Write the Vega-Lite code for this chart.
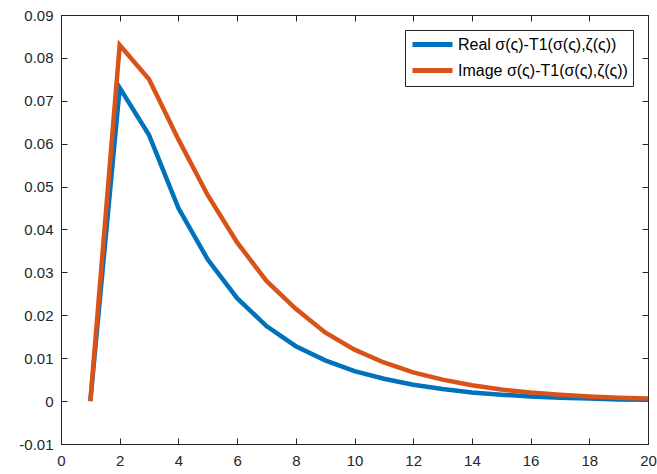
{
  "$schema": "https://vega.github.io/schema/vega-lite/v6.json",
  "autosize": "none",
  "width": 587,
  "height": 429,
  "padding": {"left": 61, "top": 15, "right": 9, "bottom": 30},
  "background": "white",
  "config": {
    "view": {"stroke": "#262626", "strokeWidth": 1},
    "font": "Liberation Sans",
    "axis": {
      "grid": false,
      "domainColor": "#262626",
      "tickColor": "#262626",
      "tickSize": -6,
      "labelColor": "#262626",
      "labelFont": "Liberation Sans",
      "labelFontSize": 15,
      "titleFontSize": 0
    }
  },
  "data": {
    "values": [
      {"x": 1, "s": "Real", "v": 0},
      {"x": 2, "s": "Real", "v": 0.073},
      {"x": 3, "s": "Real", "v": 0.062},
      {"x": 4, "s": "Real", "v": 0.045},
      {"x": 5, "s": "Real", "v": 0.033},
      {"x": 6, "s": "Real", "v": 0.024},
      {"x": 7, "s": "Real", "v": 0.0175},
      {"x": 8, "s": "Real", "v": 0.0128},
      {"x": 9, "s": "Real", "v": 0.0095},
      {"x": 10, "s": "Real", "v": 0.007},
      {"x": 11, "s": "Real", "v": 0.0052},
      {"x": 12, "s": "Real", "v": 0.0038},
      {"x": 13, "s": "Real", "v": 0.0028},
      {"x": 14, "s": "Real", "v": 0.002},
      {"x": 15, "s": "Real", "v": 0.0015},
      {"x": 16, "s": "Real", "v": 0.0011},
      {"x": 17, "s": "Real", "v": 0.0008},
      {"x": 18, "s": "Real", "v": 0.0006},
      {"x": 19, "s": "Real", "v": 0.0004},
      {"x": 20, "s": "Real", "v": 0.0003},
      {"x": 1, "s": "Image", "v": 0},
      {"x": 2, "s": "Image", "v": 0.083},
      {"x": 3, "s": "Image", "v": 0.075},
      {"x": 4, "s": "Image", "v": 0.061},
      {"x": 5, "s": "Image", "v": 0.048},
      {"x": 6, "s": "Image", "v": 0.037},
      {"x": 7, "s": "Image", "v": 0.028},
      {"x": 8, "s": "Image", "v": 0.0215},
      {"x": 9, "s": "Image", "v": 0.016},
      {"x": 10, "s": "Image", "v": 0.012},
      {"x": 11, "s": "Image", "v": 0.009},
      {"x": 12, "s": "Image", "v": 0.0067},
      {"x": 13, "s": "Image", "v": 0.005},
      {"x": 14, "s": "Image", "v": 0.0037},
      {"x": 15, "s": "Image", "v": 0.0027},
      {"x": 16, "s": "Image", "v": 0.002},
      {"x": 17, "s": "Image", "v": 0.0015},
      {"x": 18, "s": "Image", "v": 0.0011},
      {"x": 19, "s": "Image", "v": 0.0008},
      {"x": 20, "s": "Image", "v": 0.0006}
    ]
  },
  "resolve": {"axis": {"x": "independent", "y": "independent"}},
  "layer": [
    {
      "mark": {"type": "line", "strokeWidth": 4.5, "strokeJoin": "miter"},
      "encoding": {
        "x": {
          "field": "x", "type": "quantitative",
          "scale": {"domain": [0, 20], "nice": false},
          "axis": {"values": [0, 2, 4, 6, 8, 10, 12, 14, 16, 18, 20], "labelPadding": 15, "title": null, "labelFlush": false}
        },
        "y": {
          "field": "v", "type": "quantitative",
          "scale": {"domain": [-0.01, 0.09], "nice": false, "zero": false},
          "axis": {
            "values": [-0.01, 0, 0.01, 0.02, 0.03, 0.04, 0.05, 0.06, 0.07, 0.08, 0.09],
            "labelExpr": "replace(format(datum.value, '.2~f'), '\u2212', '-')",
            "labelPadding": 14, "title": null
          }
        },
        "color": {
          "field": "s", "type": "nominal",
          "scale": {"domain": ["Real", "Image"], "range": ["#0072BD", "#D95319"]},
          "legend": {
            "orient": "none",
            "legendX": 344,
            "legendY": 15,
            "title": null,
            "symbolType": "M-3,0H3",
            "symbolFillColor": "transparent",
            "symbolStrokeWidth": 5,
            "symbolSize": 178,
            "symbolOffset": 13,
            "labelFontSize": 16,
            "labelLimit": 400,
            "labelFont": "Liberation Sans",
            "labelColor": "#000000",
            "labelExpr": "datum.value + ' \u03c3(\u03c2)-T1(\u03c3(\u03c2),\u03b6(\u03c2))'",
            "strokeColor": "#262626",
            "fillColor": "white",
            "padding": 5,
            "rowPadding": 5,
            "labelOffset": 16
          }
        }
      }
    },
    {
      "mark": {"type": "line", "opacity": 0},
      "encoding": {
        "x": {
          "field": "x", "type": "quantitative",
          "scale": {"domain": [0, 20], "nice": false},
          "axis": {"orient": "top", "values": [0, 2, 4, 6, 8, 10, 12, 14, 16, 18, 20], "labels": false, "title": null}
        },
        "y": {
          "field": "v", "type": "quantitative",
          "scale": {"domain": [-0.01, 0.09], "nice": false, "zero": false},
          "axis": {"orient": "right", "values": [-0.01, 0, 0.01, 0.02, 0.03, 0.04, 0.05, 0.06, 0.07, 0.08, 0.09], "labels": false, "title": null}
        },
        "detail": {"field": "s"}
      }
    }
  ]
}
